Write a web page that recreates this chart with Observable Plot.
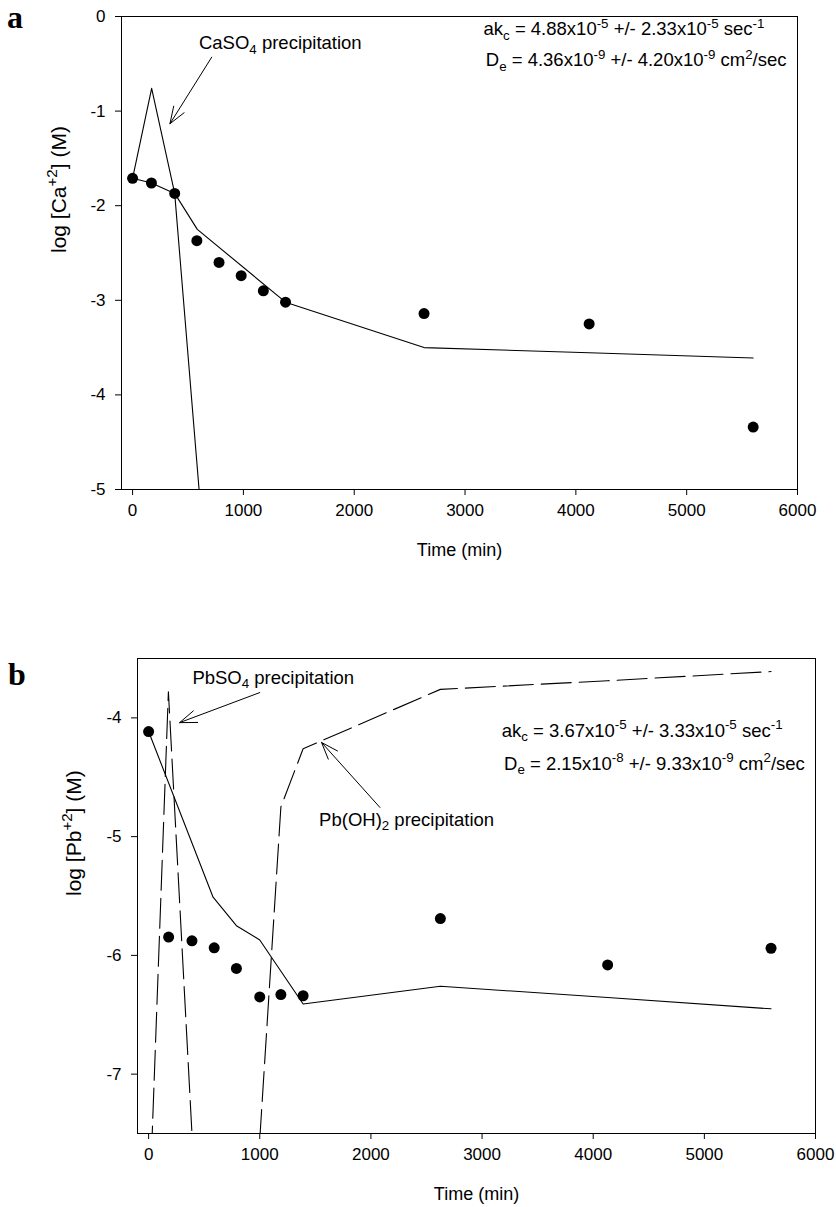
<!DOCTYPE html>
<html>
<head>
<meta charset="utf-8">
<script src="https://cdn.jsdelivr.net/npm/d3@7"></script>
<script src="https://cdn.jsdelivr.net/npm/@observablehq/plot@0.6"></script>
<style>
  html, body { margin: 0; padding: 0; background: #fff; }
  #wrap { position: relative; width: 836px; height: 1207px; }
  .panel-letter { position: absolute; font-family: "Liberation Serif", "DejaVu Serif", serif; font-weight: bold; font-size: 32px; line-height: 1; color: #000; z-index: 2; }
  svg { display: block; }
</style>
</head>
<body>
<div id="wrap">
  <div class="panel-letter" style="left:7px; top:1px;">a</div>
  <div class="panel-letter" style="left:8px; top:658px;">b</div>
  <div id="topPanel"></div>
  <div id="bottomPanel"></div>
</div>
<script>
// ---------- Data: panel a (Ca) ----------
const xTicks = [0, 1000, 2000, 3000, 4000, 5000, 6000];
const caTicks = [-5, -4, -3, -2, -1, 0];
const caObsTime = [0, 170, 380, 580, 780, 980, 1180, 1380, 2630, 4120, 5600];
const caObsLog = [-1.71, -1.76, -1.87, -2.37, -2.60, -2.74, -2.90, -3.02, -3.14, -3.25, -4.34];
const caPrecipTime = [0, 172, 380, 600];
const caPrecipLog = [-1.71, -0.76, -1.87, -5.0];
const caModelTime = [0, 170, 380, 584, 1380, 2630, 4120, 5600];
const caModelLog = [-1.71, -1.76, -1.87, -2.25, -3.02, -3.50, -3.555, -3.61];
const caNoteX = [599, 3167, 3187];
const caNoteY = [-0.282, -0.137, -0.465];
const caNoteText = [
  "CaSO_{4} precipitation",
  "ak_{c} = 4.88x10^{-5} +/- 2.33x10^{-5} sec^{-1}",
  "D_{e} = 4.36x10^{-9} +/- 4.20x10^{-9} cm^{2}/sec"
];
const caArrowFrom = [714, -0.43];
const caArrowTo = [337, -1.134];

// ---------- Data: panel b (Pb) ----------
const pbTicks = [-7, -6, -5, -4];
const pbObsTime = [0, 180, 390, 590, 790, 1000, 1190, 1390, 2625, 4130, 5600];
const pbObsLog = [-4.115, -5.846, -5.877, -5.936, -6.11, -6.35, -6.33, -6.34, -5.69, -6.08, -5.94];
const pbModelTime = [0, 580, 790, 1000, 1390, 2625, 4130, 5600];
const pbModelLog = [-4.115, -5.51, -5.75, -5.87, -6.41, -6.26, -6.355, -6.45];
const pbSO4Time = [0, 178, 390];
const pbSO4Log = [-8.33, -3.78, -7.5];
const pbOHTime = [1000, 1190, 1390, 2625, 4130, 5600];
const pbOHLog = [-7.55, -4.75, -4.26, -3.76, -3.687, -3.61];
const pbNoteX = [394, 1534, 3177, 3198];
const pbNoteY = [-3.661, -4.86, -4.109, -4.389];
const pbNoteText = [
  "PbSO_{4} precipitation",
  "Pb(OH)_{2} precipitation",
  "ak_{c} = 3.67x10^{-5} +/- 3.33x10^{-5} sec^{-1}",
  "D_{e} = 2.15x10^{-8} +/- 9.33x10^{-9} cm^{2}/sec"
];
const pbArrowX1 = [1000, 2081];
const pbArrowY1 = [-3.787, -4.754];
const pbArrowX2 = [279, 1556];
const pbArrowY2 = [-4.04, -4.207];

// ---------- helpers ----------
const zip = (xs, ys) => xs.map((x, i) => ({x, y: ys[i]}));
const FONT = "'Liberation Sans', Arial, Helvetica, sans-serif";

function richify(root, fs) {
  const SVGNS = "http://www.w3.org/2000/svg";
  const leaves = [];
  root.querySelectorAll("text, tspan").forEach(el => {
    if (el.children.length === 0 && /[\^_]\{/.test(el.textContent)) leaves.push(el);
  });
  leaves.forEach(el => {
    const holder = el.closest("[font-size]");
    const size = holder ? parseFloat(holder.getAttribute("font-size")) || fs : fs;
    const s = el.textContent;
    el.textContent = "";
    const parts = s.split(/(\^\{[^}]*\}|_\{[^}]*\})/).filter(p => p);
    let offset = 0;
    for (const p of parts) {
      const ts = document.createElementNS(SVGNS, "tspan");
      let target = 0, txt = p;
      if (p.startsWith("^{")) { target = -0.42 * size; txt = p.slice(2, -1); ts.setAttribute("font-size", (0.72 * size).toFixed(2)); }
      else if (p.startsWith("_{")) { target = 0.24 * size; txt = p.slice(2, -1); ts.setAttribute("font-size", (0.72 * size).toFixed(2)); }
      const dy = target - offset;
      if (dy !== 0) ts.setAttribute("dy", dy.toFixed(2));
      offset = target;
      ts.textContent = txt;
      el.appendChild(ts);
    }
  });
}

function panel({height, marginTop, marginBottom, marginLeft, marginRight, yDomain, yTicks, obs, lines, notes, arrows, yLabel, yLabelDx}) {
  const marks = [
    Plot.frame({stroke: "black", strokeWidth: 1}),
    Plot.axisX({ticks: xTicks, tickSize: 6, tickPadding: 8, fontSize: 17, tickFormat: d => String(d), label: null}),
    Plot.axisY({ticks: yTicks, tickSize: 6, tickPadding: 10, fontSize: 17, tickFormat: d => String(d), label: null}),
    ...lines.map(l => Plot.line(l.data, {x: "x", y: "y", stroke: "black", strokeWidth: 1.1, strokeDasharray: l.dash, clip: true})),
    Plot.dot(obs, {x: "x", y: "y", r: 5.5, fill: "black", stroke: "none"}),
    Plot.arrow(arrows, {x1: "x1", y1: "y1", x2: "x2", y2: "y2", stroke: "black", strokeWidth: 1, headLength: 27, headAngle: 40}),
    Plot.text(notes, {x: "x", y: "y", text: "text", textAnchor: "start", lineAnchor: "middle", fontSize: 18.5, fill: "black"}),
    Plot.text(["Time (min)"], {frameAnchor: "bottom", dy: 61, text: d => d, fontSize: 18, lineAnchor: "middle", fill: "black"}),
    Plot.text([yLabel], {frameAnchor: "left", dx: yLabelDx, rotate: -90, text: d => d, fontSize: 21, lineAnchor: "middle", fill: "black"})
  ];
  const p = Plot.plot({
    width: 836, height, marginTop, marginBottom, marginLeft, marginRight,
    x: {domain: [-100, 6000]},
    y: {domain: yDomain},
    style: {fontFamily: FONT, fontSize: "17px", color: "black", background: "white", overflow: "visible"},
    marks
  });
  richify(p, 18);
  return p;
}

const topPlot = panel({
  height: 620, marginTop: 16, marginBottom: 131, marginLeft: 121, marginRight: 39,
  yDomain: [-5, 0], yTicks: caTicks,
  obs: zip(caObsTime, caObsLog),
  lines: [
    {data: zip(caPrecipTime, caPrecipLog), dash: null},
    {data: zip(caModelTime, caModelLog), dash: null}
  ],
  notes: caNoteText.map((t, i) => ({x: caNoteX[i], y: caNoteY[i], text: t})),
  arrows: [{x1: caArrowFrom[0], y1: caArrowFrom[1], x2: caArrowTo[0], y2: caArrowTo[1]}],
  yLabel: "log [Ca^{+2}] (M)", yLabelDx: -62
});
document.getElementById("topPanel").appendChild(topPlot);

const bottomPlot = panel({
  height: 587, marginTop: 38, marginBottom: 74, marginLeft: 137, marginRight: 21,
  yDomain: [-7.5, -3.5], yTicks: pbTicks,
  obs: zip(pbObsTime, pbObsLog),
  lines: [
    {data: zip(pbModelTime, pbModelLog), dash: null},
    {data: zip(pbSO4Time, pbSO4Log), dash: "30,8"},
    {data: zip(pbOHTime, pbOHLog), dash: "30,8"}
  ],
  notes: pbNoteText.map((t, i) => ({x: pbNoteX[i], y: pbNoteY[i], text: t})),
  arrows: pbArrowX1.map((x1, i) => ({x1, y1: pbArrowY1[i], x2: pbArrowX2[i], y2: pbArrowY2[i]})),
  yLabel: "log [Pb^{+2}] (M)", yLabelDx: -63
});
document.getElementById("bottomPanel").appendChild(bottomPlot);
</script>
</body>
</html>
